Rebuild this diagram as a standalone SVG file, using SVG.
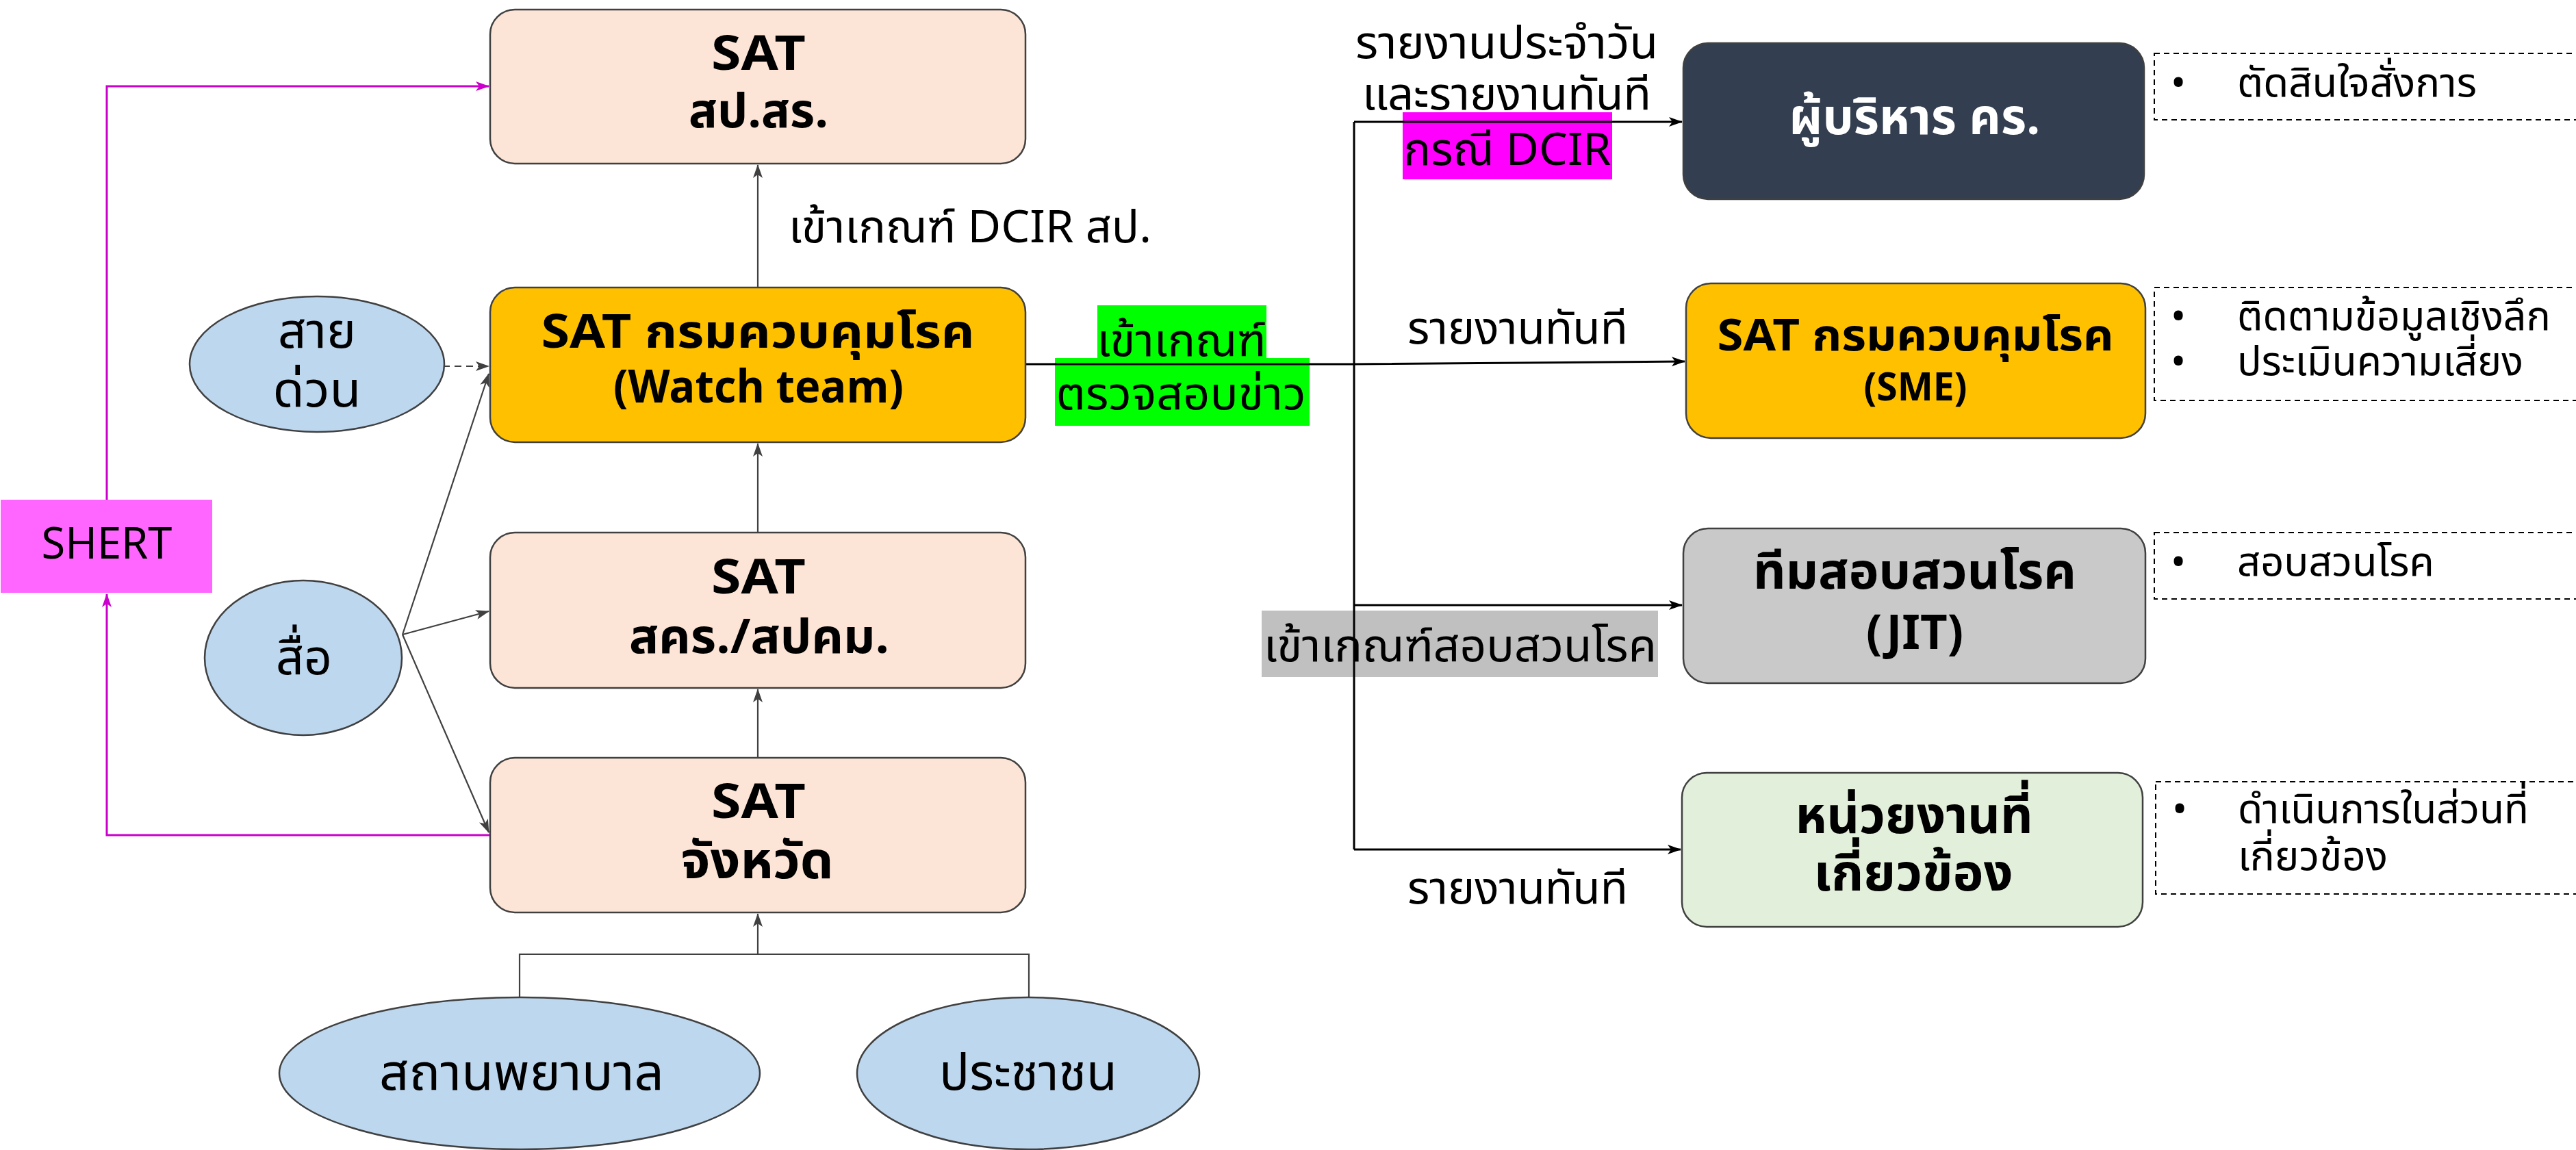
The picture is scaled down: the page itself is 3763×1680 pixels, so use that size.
<svg xmlns="http://www.w3.org/2000/svg" width="3763" height="1680" viewBox="0 0 3763 1680">
<style>
text{font-family:"Noto Sans Thai","Noto Sans","DejaVu Sans",sans-serif;fill:#000}
.b{font-weight:bold}
.c{text-anchor:middle}
.box{stroke:#404040;stroke-width:2.5}
.ell{fill:#BDD7EE;stroke:#404040;stroke-width:2.5}
.peach{fill:#FCE4D6}
.dash{fill:none;stroke:#000;stroke-width:2;stroke-dasharray:8,6}
.cg{fill:none;stroke:#404040;stroke-width:2.2}
.ck{fill:none;stroke:#000;stroke-width:3}
.cm{fill:none;stroke:#CC00CC;stroke-width:3}
.t70{font-size:70px}
.lbl{font-size:66px}
.side{font-size:59px}
.et{font-size:74px}
</style>
<defs>
<marker id="ag" viewBox="0 0 20 14" refX="19" refY="7" markerWidth="20" markerHeight="14" markerUnits="userSpaceOnUse" orient="auto"><path d="M0,0 L20,7 L0,14 L5,7 z" fill="#404040"/></marker>
<marker id="ak" viewBox="0 0 20 14" refX="19" refY="7" markerWidth="20" markerHeight="16" markerUnits="userSpaceOnUse" orient="auto"><path d="M0,0 L20,7 L0,14 L5,7 z" fill="#000"/></marker>
<marker id="am" viewBox="0 0 20 14" refX="19" refY="7" markerWidth="20" markerHeight="16" markerUnits="userSpaceOnUse" orient="auto"><path d="M0,0 L20,7 L0,14 L5,7 z" fill="#CC00CC"/></marker>
</defs>
<rect width="3763" height="1680" fill="#fff"/>

<g id="labels">
<text class="lbl" x="1152" y="354" textLength="530" lengthAdjust="spacingAndGlyphs">เข้าเกณฑ์ DCIR สป.</text>
<rect x="1603" y="446" width="247" height="78" fill="#00FF00"/>
<rect x="1541" y="523" width="372" height="99" fill="#00FF00"/>
<text class="lbl c" x="1726" y="520" textLength="247" lengthAdjust="spacingAndGlyphs">เข้าเกณฑ์</text>
<text class="lbl c" x="1725" y="598" textLength="365" lengthAdjust="spacingAndGlyphs">ตรวจสอบข่าว</text>
<text class="lbl c" x="2201" y="85" textLength="442" lengthAdjust="spacingAndGlyphs">รายงานประจำวัน</text>
<text class="lbl c" x="2201" y="160" textLength="422" lengthAdjust="spacingAndGlyphs">และรายงานทันที</text>
<rect x="2049" y="164" width="306" height="98" fill="#FF00FF"/>
<text class="lbl c" x="2202" y="241" textLength="303" lengthAdjust="spacingAndGlyphs">กรณี DCIR</text>
<text class="lbl c" x="2217" y="502" textLength="322" lengthAdjust="spacingAndGlyphs">รายงานทันที</text>
<rect x="1843" y="892" width="579" height="97" fill="#C0C0C0"/>
<text class="lbl c" x="2133" y="966" textLength="574" lengthAdjust="spacingAndGlyphs">เข้าเกณฑ์สอบสวนโรค</text>
<text class="lbl c" x="2217" y="1320" textLength="322" lengthAdjust="spacingAndGlyphs">รายงานทันที</text>
</g>

<g id="connectors">
<path class="cg" d="M1107,420 V241" marker-end="url(#ag)"/>
<path class="cg" d="M1107,778 V648" marker-end="url(#ag)"/>
<path class="cg" d="M1107,1107 V1007" marker-end="url(#ag)"/>
<path class="cg" d="M759,1457 V1394 H1503 V1457"/>
<path class="cg" d="M1107,1394 V1335" marker-end="url(#ag)"/>
<path class="cg" d="M630,535 H714" stroke-dasharray="10,7" stroke-width="3" marker-end="url(#ag)"/>
<path class="cg" d="M588,927 L714,546" marker-end="url(#ag)"/>
<path class="cg" d="M588,927 L714,893" marker-end="url(#ag)"/>
<path class="cg" d="M588,927 L714,1216" marker-end="url(#ag)"/>
<path class="cm" d="M156,730 V126 H714" marker-end="url(#am)"/>
<path class="cm" d="M716,1220 H156 V868" marker-end="url(#am)"/>
<path class="ck" d="M1498,532 H1978 L2461,528" marker-end="url(#ak)"/>
<path class="ck" d="M1978,178 V1241"/>
<path class="ck" d="M1978,178 H2457" marker-end="url(#ak)"/>
<path class="ck" d="M1978,884 H2457" marker-end="url(#ak)"/>
<path class="ck" d="M1978,1241 H2455" marker-end="url(#ak)"/>
</g>

<g id="n-spsr">
<rect class="box peach" x="716" y="14" width="782" height="225" rx="36"/>
<text class="b c t70" x="1108" y="102" textLength="138" lengthAdjust="spacingAndGlyphs">SAT</text>
<text class="b c t70" x="1108" y="186" textLength="204" lengthAdjust="spacingAndGlyphs">สป.สร.</text>
</g>
<g id="n-watch">
<rect class="box" x="716" y="420" width="782" height="226" rx="36" fill="#FFC000"/>
<text class="b c" font-size="68" x="1107" y="508" textLength="633" lengthAdjust="spacingAndGlyphs">SAT กรมควบคุมโรค</text>
<text class="b c" font-size="66" x="1108" y="588" textLength="424" lengthAdjust="spacingAndGlyphs">(Watch team)</text>
</g>
<g id="n-skr">
<rect class="box peach" x="716" y="778" width="782" height="227" rx="36"/>
<text class="b c t70" x="1108" y="867" textLength="138" lengthAdjust="spacingAndGlyphs">SAT</text>
<text class="b c t70" x="1109" y="954" textLength="380" lengthAdjust="spacingAndGlyphs">สคร./สปคม.</text>
</g>
<g id="n-prov">
<rect class="box peach" x="716" y="1107" width="782" height="226" rx="36"/>
<text class="b c t70" x="1108" y="1195" textLength="138" lengthAdjust="spacingAndGlyphs">SAT</text>
<text class="b c" font-size="74" x="1106" y="1283" textLength="223" lengthAdjust="spacingAndGlyphs">จังหวัด</text>
</g>
<g id="n-hotline">
<ellipse class="ell" cx="463" cy="532" rx="186" ry="99"/>
<text class="c" font-size="72" x="463" y="508" textLength="114" lengthAdjust="spacingAndGlyphs">สาย</text>
<text class="c" font-size="72" x="463" y="594" textLength="129" lengthAdjust="spacingAndGlyphs">ด่วน</text>
</g>
<g id="n-media">
<ellipse class="ell" cx="443" cy="961" rx="144" ry="113"/>
<text class="c" font-size="72" x="444" y="985" textLength="82" lengthAdjust="spacingAndGlyphs">สื่อ</text>
</g>
<g id="n-shert">
<rect x="1" y="730" width="309" height="136" fill="#FF66FF"/>
<text class="c" font-size="64" x="156" y="816" textLength="191" lengthAdjust="spacingAndGlyphs">SHERT</text>
</g>
<g id="n-hosp">
<ellipse class="ell" cx="759" cy="1568" rx="351" ry="111"/>
<text class="c et" x="762" y="1592" textLength="416" lengthAdjust="spacingAndGlyphs">สถานพยาบาล</text>
</g>
<g id="n-people">
<ellipse class="ell" cx="1502" cy="1568" rx="250" ry="111"/>
<text class="c et" x="1502" y="1592" textLength="260" lengthAdjust="spacingAndGlyphs">ประชาชน</text>
</g>
<g id="n-exec">
<rect class="box" x="2459" y="63" width="673" height="228" rx="36" fill="#333F50"/>
<text class="b c" font-size="72" x="2797" y="196" style="fill:#fff" textLength="367" lengthAdjust="spacingAndGlyphs">ผู้บริหาร คร.</text>
</g>
<g id="n-sme">
<rect class="box" x="2463" y="414" width="671" height="226" rx="36" fill="#FFC000"/>
<text class="b c" font-size="64" x="2798" y="512" textLength="579" lengthAdjust="spacingAndGlyphs">SAT กรมควบคุมโรค</text>
<text class="b c" font-size="58" x="2798" y="585" textLength="151" lengthAdjust="spacingAndGlyphs">(SME)</text>
</g>
<g id="n-jit">
<rect class="box" x="2459" y="772" width="675" height="226" rx="36" fill="#C9C9C9"/>
<text class="b c" font-size="72" x="2797" y="860" textLength="472" lengthAdjust="spacingAndGlyphs">ทีมสอบสวนโรค</text>
<text class="b c" font-size="70" x="2797" y="948" textLength="142" lengthAdjust="spacingAndGlyphs">(JIT)</text>
</g>
<g id="n-related">
<rect class="box" x="2457" y="1129" width="673" height="225" rx="36" fill="#E2EFDA"/>
<text class="b c" font-size="75" x="2796" y="1217" textLength="347" lengthAdjust="spacingAndGlyphs">หน่วยงานที่</text>
<text class="b c" font-size="75" x="2795" y="1301" textLength="291" lengthAdjust="spacingAndGlyphs">เกี่ยวข้อง</text>
</g>
<g id="n-note1">
<rect class="dash" x="3147" y="78" width="640" height="97"/>
<text class="side c" x="3182" y="141">•</text>
<text class="side" x="3268" y="141" textLength="350" lengthAdjust="spacingAndGlyphs">ตัดสินใจสั่งการ</text>
</g>
<g id="n-note2">
<rect class="dash" x="3147" y="420" width="640" height="165"/>
<text class="side c" x="3182" y="482">•</text>
<text class="side" x="3268" y="482" textLength="458" lengthAdjust="spacingAndGlyphs">ติดตามข้อมูลเชิงลึก</text>
<text class="side c" x="3182" y="548">•</text>
<text class="side" x="3268" y="548" textLength="418" lengthAdjust="spacingAndGlyphs">ประเมินความเสี่ยง</text>
</g>
<g id="n-note3">
<rect class="dash" x="3147" y="778" width="640" height="97"/>
<text class="side c" x="3182" y="841">•</text>
<text class="side" x="3268" y="841" textLength="288" lengthAdjust="spacingAndGlyphs">สอบสวนโรค</text>
</g>
<g id="n-note4">
<rect class="dash" x="3149" y="1142" width="640" height="164"/>
<text class="side c" x="3184" y="1202">•</text>
<text class="side" x="3269" y="1202" textLength="425" lengthAdjust="spacingAndGlyphs">ดำเนินการในส่วนที่</text>
<text class="side" x="3269" y="1271" textLength="219" lengthAdjust="spacingAndGlyphs">เกี่ยวข้อง</text>
</g>
</svg>
